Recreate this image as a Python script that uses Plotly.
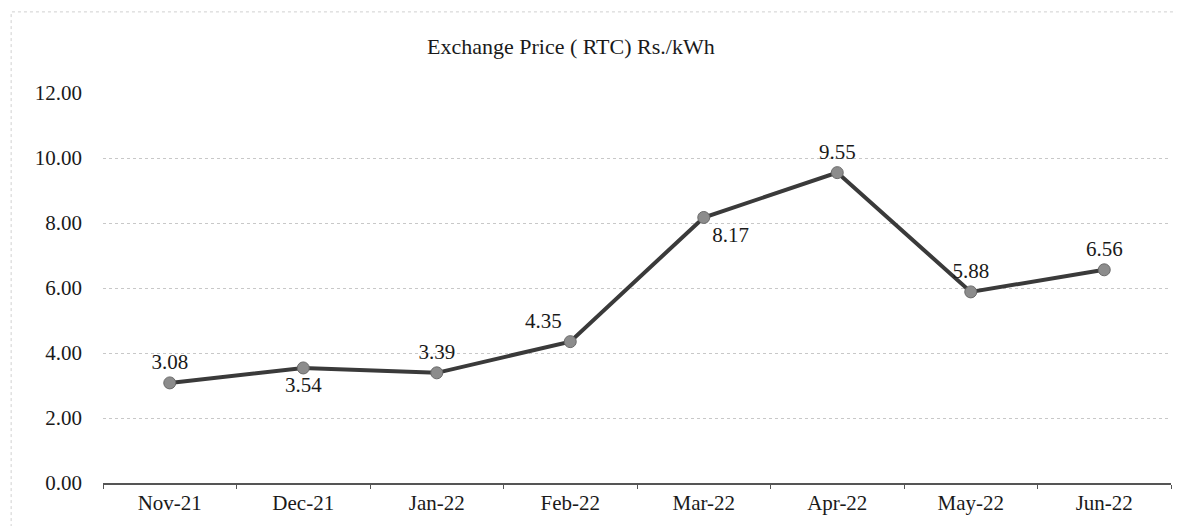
import plotly.graph_objects as go

months = ["Nov-21", "Dec-21", "Jan-22", "Feb-22", "Mar-22", "Apr-22", "May-22", "Jun-22"]
prices = [3.08, 3.54, 3.39, 4.35, 8.17, 9.55, 5.88, 6.56]
label_pos = ["top center", "bottom center", "top center", "top left",
             "bottom right", "top center", "top center", "top center"]
y_ticks = [0, 2, 4, 6, 8, 10, 12]
y_tick_text = [f"{v:.2f}" for v in y_ticks]
title_text = "Exchange Price ( RTC) Rs./kWh"

font_family = "Liberation Serif"

fig = go.Figure()
fig.add_trace(go.Scatter(
    x=months, y=prices,
    mode="lines+markers+text",
    line=dict(color="#3a3a3a", width=4),
    marker=dict(color="#8c8c8c", size=12, line=dict(color="#6a6a6a", width=1)),
    text=[f"{v:.2f}" for v in prices],
    textposition=label_pos,
    textfont=dict(family=font_family, size=21, color="#1a1a1a"),
    cliponaxis=False,
    showlegend=False,
))

fig.update_layout(
    width=1184, height=526,
    margin=dict(l=95, r=21, t=85, b=51),
    paper_bgcolor="white",
    plot_bgcolor="white",
    font=dict(family=font_family, size=21, color="#1a1a1a"),
    annotations=[dict(
        text=title_text, x=0.438, y=1.0, xref="paper", yref="paper",
        xanchor="center", yanchor="middle", yshift=47, showarrow=False,
        font=dict(family=font_family, size=22, color="#1a1a1a"),
    )],
    xaxis=dict(
        type="category", showgrid=False, zeroline=False,
        showline=True, linecolor="#555555", linewidth=1.5,
        ticks="outside", tickson="boundaries", ticklen=4, tickcolor="#555555",
        tickfont=dict(family=font_family, size=21),
        range=[-0.5, 7.5],
    ),
    yaxis=dict(
        range=[0, 12], tickvals=y_ticks, ticktext=y_tick_text,
        showgrid=True, gridcolor="#c8c8c8", griddash="dot", gridwidth=1,
        zeroline=False, showline=False, ticks="",
        ticklabelstandoff=20,
        tickfont=dict(family=font_family, size=21),
    ),
    shapes=[dict(type="rect", xref="paper", yref="paper", x0=-0.086, x1=1.016, y0=-0.12, y1=1.208,
                 line=dict(color="#d0d0d0", width=1, dash="dot"))],
)

fig.write_html("out.html")
